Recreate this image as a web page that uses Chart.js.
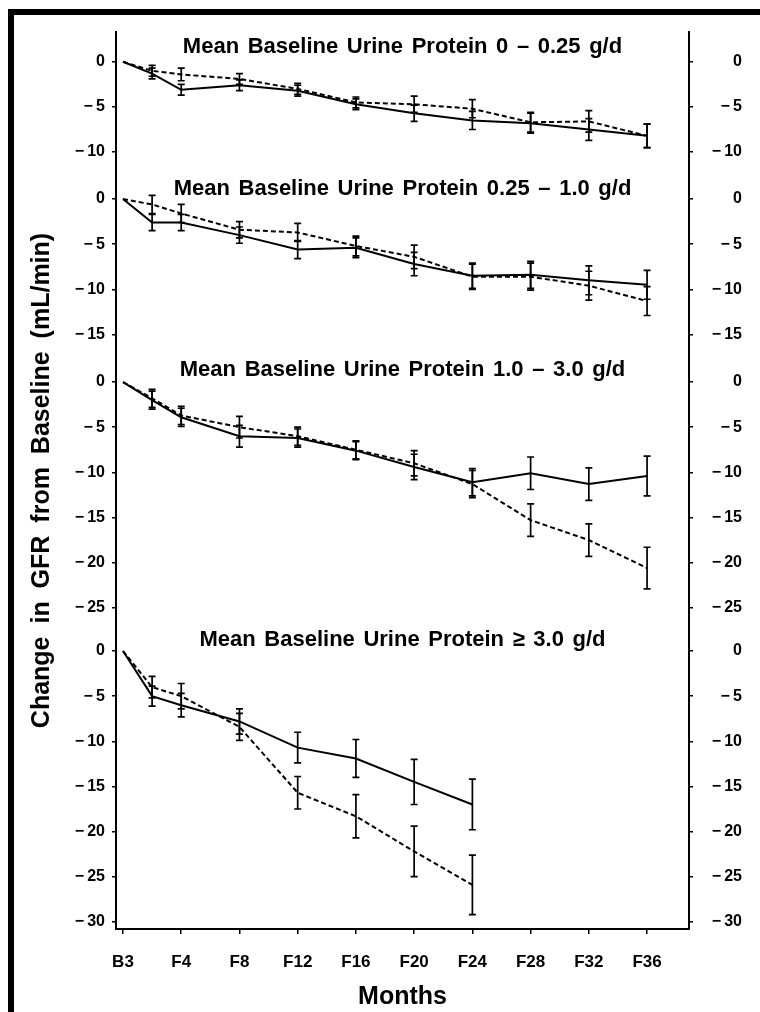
<!DOCTYPE html>
<html>
<head>
<meta charset="utf-8">
<script src="https://cdn.jsdelivr.net/npm/chart.js@4.4.1/dist/chart.umd.min.js"></script>
<style>
  html, body { margin: 0; padding: 0; background: #fff; }
  #wrap { position: relative; width: 760px; height: 1012px; overflow: hidden; }
  #frame { position: absolute; left: 8px; top: 9px; right: -10px; bottom: -10px; border-top: 6px solid #000; border-left: 6px solid #000; }
  #graphCanvas { position: absolute; left: 0; top: 0; }
</style>
</head>
<body>
<div id="wrap">
  <div id="frame"></div>
  <canvas id="graphCanvas" width="760" height="1012"></canvas>
</div>
<script>
// Visit months (B3 = baseline, extra visit at month 2)
const months = [0, 2, 4, 8, 12, 16, 20, 24, 28, 32, 36];
const xTickValues = [0, 4, 8, 12, 16, 20, 24, 28, 32, 36];
const xTickLabels = ['B3', 'F4', 'F8', 'F12', 'F16', 'F20', 'F24', 'F28', 'F32', 'F36'];

const panelTitles = [
    'Mean Baseline Urine Protein 0 \u2013 0.25 g/d',
    'Mean Baseline Urine Protein 0.25 \u2013 1.0 g/d',
    'Mean Baseline Urine Protein 1.0 \u2013 3.0 g/d',
    'Mean Baseline Urine Protein \u2265 3.0 g/d'
];
const panelTicks = [
    [0, -5, -10],
    [0, -5, -10, -15],
    [0, -5, -10, -15, -20, -25],
    [0, -5, -10, -15, -20, -25, -30]
];

// Change in GFR (mL/min), solid and dashed groups, per panel
const solidP1 = [0, -1.3, -3.1, -2.6, -3.2, -4.7, -5.7, -6.5, -6.8, -7.5, -8.2];
const dashedP1 = [0, -1.0, -1.4, -1.9, -3.0, -4.5, -4.7, -5.2, -6.7, -6.6, -8.2];
const solidErrP1 = [0, 0.6, 0.6, 0.6, 0.6, 0.6, 0.9, 1.0, 1.1, 1.2, 1.3];
const dashedErrP1 = [0, 0.6, 0.7, 0.6, 0.6, 0.6, 0.9, 1.0, 1.1, 1.2, 1.3];

const solidP2 = [0, -2.6, -2.6, -4.0, -5.6, -5.4, -7.2, -8.5, -8.4, -9.0, -9.5];
const dashedP2 = [0, -0.6, -1.6, -3.4, -3.7, -5.2, -6.4, -8.6, -8.6, -9.6, -11.3];
const solidErrP2 = [0, 0.9, 0.9, 0.9, 1.0, 1.1, 1.3, 1.4, 1.5, 1.6, 1.6];
const dashedErrP2 = [0, 1.0, 1.0, 0.9, 1.0, 1.1, 1.3, 1.4, 1.5, 1.6, 1.6];

const solidP3 = [0, -2.0, -3.9, -6.0, -6.2, -7.6, -9.4, -11.1, -10.1, -11.3, -10.4];
const dashedP3 = [0, -1.8, -3.7, -5.0, -6.0, -7.5, -9.0, -11.3, -15.3, -17.5, -20.6];
const solidErrP3 = [0, 1.0, 1.0, 1.2, 1.0, 1.0, 1.4, 1.5, 1.8, 1.8, 2.2];
const dashedErrP3 = [0, 1.0, 1.0, 1.2, 1.0, 1.0, 1.4, 1.5, 1.8, 1.8, 2.3];

const solidP4 = [0, -5.0, -6.0, -7.8, -10.7, -11.9, -14.5, -17.0];
const dashedP4 = [0, -4.0, -5.0, -8.4, -15.7, -18.3, -22.2, -25.9];
const solidErrP4 = [0, 1.1, 1.3, 1.4, 1.7, 2.1, 2.5, 2.8];
const dashedErrP4 = [0, 1.2, 1.4, 1.5, 1.8, 2.4, 2.8, 3.3];

// Layout: where each panel's zero sits on the shared vertical axis
const panelZero = [0, -15.2, -35.47, -65.26];
const titleLift = [15, 10.5, 12, 11.5]; // px above panel zero

const solids = [solidP1, solidP2, solidP3, solidP4];
const dashes = [dashedP1, dashedP2, dashedP3, dashedP4];
const solidErrs = [solidErrP1, solidErrP2, solidErrP3, solidErrP4];
const dashedErrs = [dashedErrP1, dashedErrP2, dashedErrP3, dashedErrP4];

const FONT = '"Liberation Sans", Arial, Helvetica, sans-serif';

// Tick positions on the shared axis
const yTickValues = [];
const yTickLabels = [];
panelTicks.forEach((ticks, p) => {
    ticks.forEach(v => {
        yTickValues.push(panelZero[p] + v);
        yTickLabels.push(v === 0 ? '0' : '\u2212\u2009' + Math.abs(v));
    });
});
const yOrder = yTickValues.map((v, i) => i).sort((a, b) => yTickValues[a] - yTickValues[b]);
const ySortedValues = yOrder.map(i => yTickValues[i]);
const ySortedLabels = yOrder.map(i => yTickLabels[i]);

const toPoints = (values, p) => values.map((v, i) => ({ x: months[i], y: panelZero[p] + v }));

const datasets = [];
for (let p = 0; p < 4; p++) {
    datasets.push({
        label: 'Solid ' + (p + 1),
        data: toPoints(solids[p], p),
        errors: solidErrs[p],
        borderColor: '#000',
        borderWidth: 2,
        pointRadius: 0,
        tension: 0
    });
    datasets.push({
        label: 'Dashed ' + (p + 1),
        data: toPoints(dashes[p], p),
        errors: dashedErrs[p],
        borderColor: '#000',
        borderWidth: 2,
        borderDash: [5, 3],
        pointRadius: 0,
        tension: 0
    });
}

// Error bars drawn from the data through the scales
const errorBars = {
    id: 'errorBars',
    afterDatasetsDraw(chart) {
        const { ctx, scales: { x, y } } = chart;
        ctx.save();
        ctx.strokeStyle = '#000';
        ctx.lineWidth = 1.7;
        chart.data.datasets.forEach(ds => {
            ds.data.forEach((pt, i) => {
                const e = ds.errors[i];
                if (!e) return;
                const px = x.getPixelForValue(pt.x);
                const top = y.getPixelForValue(pt.y + e);
                const bot = y.getPixelForValue(pt.y - e);
                ctx.beginPath();
                ctx.moveTo(px, top); ctx.lineTo(px, bot);
                ctx.moveTo(px - 3.5, top); ctx.lineTo(px + 3.5, top);
                ctx.moveTo(px - 3.5, bot); ctx.lineTo(px + 3.5, bot);
                ctx.stroke();
            });
        });
        ctx.restore();
    }
};

// Wider word gaps for the axis title, like the original typesetting
const titleSpacing = {
    id: 'titleSpacing',
    beforeDraw(chart) { chart.ctx.wordSpacing = '6px'; },
    beforeDatasetsDraw(chart) { chart.ctx.wordSpacing = '0px'; }
};

// Panel headings
const panelHeadings = {
    id: 'panelHeadings',
    afterDraw(chart) {
        const { ctx, chartArea, scales: { y } } = chart;
        ctx.save();
        ctx.wordSpacing = '2.5px';
        ctx.font = 'bold 22px ' + FONT;
        ctx.fillStyle = '#000';
        ctx.textAlign = 'center';
        ctx.textBaseline = 'middle';
        const cx = (chartArea.left + chartArea.right) / 2;
        panelTitles.forEach((t, p) => {
            ctx.fillText(t, cx, y.getPixelForValue(panelZero[p]) - titleLift[p]);
        });
        ctx.restore();
    }
};

const axisCommon = {
    grid: { drawOnChartArea: false, drawTicks: true, tickLength: 4, color: '#000', lineWidth: 1.5 },
    border: { display: true, color: '#000', width: 2 }
};

const ctx = document.getElementById('graphCanvas').getContext('2d');
new Chart(ctx, {
    type: 'line',
    data: { datasets: datasets },
    options: {
        responsive: false,
        animation: false,
        layout: { padding: { top: 32, left: 0, right: 18, bottom: 0 } },
        plugins: { legend: { display: false }, tooltip: { enabled: false } },
        scales: {
            x: {
                type: 'linear',
                min: -0.48,
                max: 38.88,
                ...axisCommon,
                grid: { ...axisCommon.grid, tickLength: 5 },
                afterBuildTicks: s => { s.ticks = xTickValues.map(v => ({ value: v })); },
                afterFit: s => { s.height = 83; },
                ticks: {
                    autoSkip: false,
                    maxRotation: 0,
                    padding: 18,
                    color: '#000',
                    font: { family: FONT, size: 17, weight: 'bold' },
                    callback: (v, i) => xTickLabels[i]
                },
                title: {
                    display: true,
                    text: 'Months',
                    color: '#000',
                    font: { family: FONT, size: 25, weight: 'bold' },
                    padding: { top: 0, bottom: 0 }
                }
            },
            y: {
                type: 'linear',
                position: 'left',
                min: -96.05,
                max: 3.3,
                ...axisCommon,
                afterBuildTicks: s => { s.ticks = ySortedValues.map(v => ({ value: v })); },
                afterFit: s => { s.width = 116; },
                ticks: {
                    autoSkip: false,
                    padding: 7,
                    color: '#000',
                    font: { family: FONT, size: 16, weight: 'bold' },
                    callback: (v, i) => ySortedLabels[i]
                },
                title: {
                    display: true,
                    text: 'Change in GFR from Baseline (mL/min)',
                    color: '#000',
                    font: { family: FONT, size: 25, weight: 'bold' },
                    padding: { top: 27, bottom: 0 }
                }
            },
            y2: {
                type: 'linear',
                position: 'right',
                min: -96.05,
                max: 3.3,
                ...axisCommon,
                afterBuildTicks: s => { s.ticks = ySortedValues.map(v => ({ value: v })); },
                afterFit: s => { s.width = 53; },
                ticks: {
                    autoSkip: false,
                    padding: 12,
                    crossAlign: 'far',
                    color: '#000',
                    font: { family: FONT, size: 16, weight: 'bold' },
                    callback: (v, i) => ySortedLabels[i]
                }
            }
        }
    },
    plugins: [titleSpacing, errorBars, panelHeadings]
});
</script>
</body>
</html>
